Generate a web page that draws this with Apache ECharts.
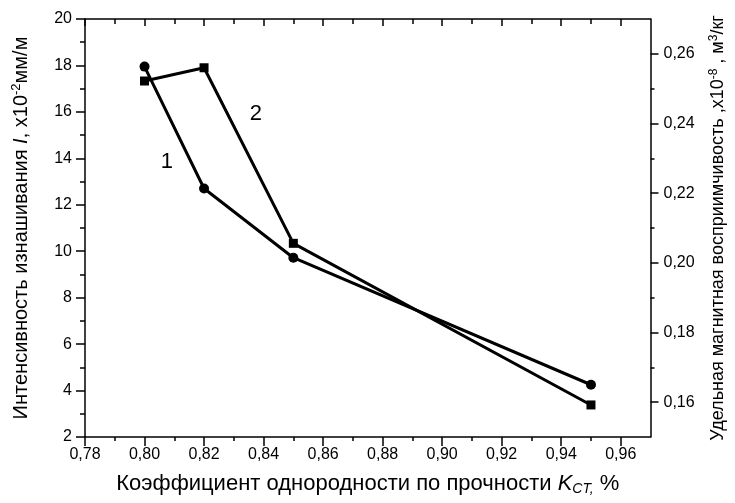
<!DOCTYPE html>
<html>
<head>
<meta charset="utf-8">
<style>html,body{margin:0;padding:0;background:#fff;}#c{width:735px;height:503px;}</style>
<script src="https://cdn.jsdelivr.net/npm/echarts@6/dist/echarts.min.js"></script>
</head>
<body>
<div id="c"></div>
<script>
// Data
var xValues = [0.80, 0.82, 0.85, 0.95];
var wearIntensity = [17.95, 12.7, 9.72, 4.25];          // series 1 (circles), left axis
var susceptibility = [0.2522, 0.2560, 0.2056, 0.1592];  // series 2 (squares), right axis
var xMajorTicks = [0.78, 0.80, 0.82, 0.84, 0.86, 0.88, 0.90, 0.92, 0.94, 0.96];
var xMinorTicks = [0.79, 0.81, 0.83, 0.85, 0.87, 0.89, 0.91, 0.93, 0.95];
var yRightMajorTicks = [0.16, 0.18, 0.20, 0.22, 0.24, 0.26];
var yRightMinorTicks = [0.17, 0.19, 0.21, 0.23, 0.25];
var label1Pos = [0.8075, 13.84];
var label2Pos = [0.8374, 0.2427];

var FONT = 'Liberation Sans, Arial, sans-serif';
var comma2 = function (v) { return v.toFixed(2).replace('.', ','); };
var lineStyleAxis = { color: '#000', width: 1.5 };

var xBase = { type: 'value', min: 0.78, max: 0.97, splitLine: { show: false } };
function richName(fs) {
  return {
    t: { fontSize: fs, fontFamily: FONT, color: '#000' },
    i: { fontSize: fs, fontFamily: FONT, color: '#000', fontStyle: 'italic' },
    sub: { fontSize: Math.round(fs * 0.65), fontFamily: FONT, color: '#000', fontStyle: 'italic', verticalAlign: 'bottom', padding: [10, 0, 0, 0] },
    sup: { fontSize: Math.round(fs * 0.65), fontFamily: FONT, color: '#000', verticalAlign: 'top', padding: [0, 0, 9, 0] }
  };
}

var chart = echarts.init(document.getElementById('c'));
chart.setOption({
  animation: false,
  backgroundColor: '#fff',
  grid: { left: 85, right: 84, top: 19, bottom: 66, containLabel: false },
  xAxis: [
    Object.assign({}, xBase, {
      position: 'bottom',
      axisLine: { show: true, lineStyle: lineStyleAxis },
      axisTick: { show: true, inside: false, length: 9, lineStyle: lineStyleAxis, customValues: xMajorTicks },
      axisLabel: { show: true, formatter: comma2, fontSize: 16, fontFamily: FONT, color: '#000', margin: 10, customValues: xMajorTicks },
      name: '{t|Коэффициент однородности по прочности }{i|K}{sub|CT,}{t| %}',
      nameLocation: 'middle', nameGap: 35,
      nameTextStyle: { rich: richName(22) }
    }),
    Object.assign({}, xBase, {
      position: 'bottom',
      axisLine: { show: false },
      axisTick: { show: true, inside: false, length: 4, lineStyle: lineStyleAxis, customValues: xMinorTicks },
      axisLabel: { show: false }
    }),
    Object.assign({}, xBase, {
      position: 'top',
      axisLine: { show: true, lineStyle: lineStyleAxis },
      axisTick: { show: true, inside: true, length: 7, lineStyle: lineStyleAxis, customValues: xMajorTicks },
      axisLabel: { show: false }
    }),
    Object.assign({}, xBase, {
      position: 'top',
      axisLine: { show: false },
      axisTick: { show: true, inside: true, length: 5, lineStyle: lineStyleAxis, customValues: xMinorTicks },
      axisLabel: { show: false }
    })
  ],
  yAxis: [
    {
      type: 'value', position: 'left', min: 2, max: 20, interval: 2,
      splitLine: { show: false },
      axisLine: { show: true, lineStyle: lineStyleAxis },
      axisTick: { show: true, inside: false, length: 9, lineStyle: lineStyleAxis },
      minorTick: { show: true, splitNumber: 2, length: 5, lineStyle: lineStyleAxis },
      axisLabel: { fontSize: 16, fontFamily: FONT, color: '#000', margin: 13 },
      name: '{t|Интенсивность изнашивания }{i|I}{t|, x10}{sup|-2}{t|мм/м}',
      nameLocation: 'middle', nameGap: 53, nameRotate: 90,
      nameTextStyle: { rich: richName(20) }
    },
    {
      type: 'value', position: 'right', min: 0.15, max: 0.27,
      splitLine: { show: false },
      axisLine: { show: true, lineStyle: lineStyleAxis },
      axisTick: { show: true, inside: false, length: 8, lineStyle: lineStyleAxis, customValues: yRightMajorTicks },
      axisLabel: { formatter: comma2, fontSize: 16, fontFamily: FONT, color: '#000', margin: 13, customValues: yRightMajorTicks },
      name: '{t|Удельная магнитная восприимчивость ,x10}{sup|-8}{t| , м}{sup|3}{t|/кг}',
      nameLocation: 'middle', nameGap: 57, nameRotate: 90,
      nameTextStyle: { rich: richName(18) }
    },
    {
      type: 'value', position: 'right', min: 0.15, max: 0.27,
      splitLine: { show: false },
      axisLine: { show: false },
      axisTick: { show: true, inside: false, length: 4, lineStyle: lineStyleAxis, customValues: yRightMinorTicks },
      axisLabel: { show: false }
    }
  ],
  series: [
    {
      type: 'line', xAxisIndex: 0, yAxisIndex: 0,
      data: xValues.map(function (x, i) { return [x, wearIntensity[i]]; }),
      symbol: 'circle', symbolSize: 10,
      itemStyle: { color: '#000' },
      lineStyle: { color: '#000', width: 3 },
      markPoint: {
        symbol: 'circle', symbolSize: 0,
        label: { show: true, formatter: '1', fontSize: 22, fontFamily: FONT, color: '#000', position: 'inside' },
        data: [{ coord: label1Pos }]
      }
    },
    {
      type: 'line', xAxisIndex: 0, yAxisIndex: 1,
      data: xValues.map(function (x, i) { return [x, susceptibility[i]]; }),
      symbol: 'rect', symbolSize: 9,
      itemStyle: { color: '#000' },
      lineStyle: { color: '#000', width: 3 },
      markPoint: {
        symbol: 'circle', symbolSize: 0,
        label: { show: true, formatter: '2', fontSize: 22, fontFamily: FONT, color: '#000', position: 'inside' },
        data: [{ coord: label2Pos }]
      }
    }
  ]
});
</script>
</body>
</html>
